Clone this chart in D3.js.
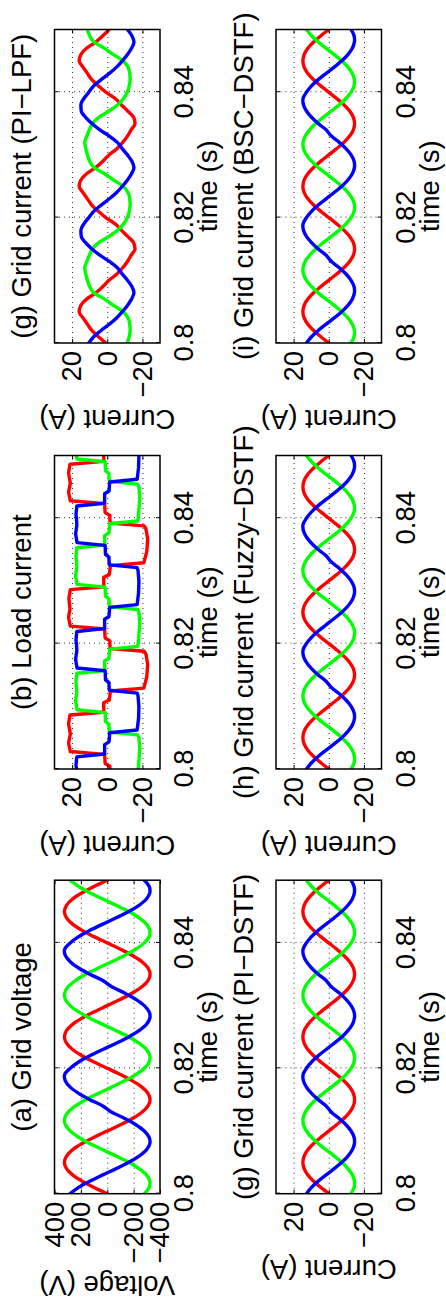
<!DOCTYPE html>
<html><head><meta charset="utf-8">
<script src="https://cdn.jsdelivr.net/npm/d3@7"></script>
<style>html,body{margin:0;padding:0;background:#fff;}svg{display:block;}</style>
</head><body>
<svg id="chart" width="446" height="1308"></svg>
<script>
// ---------- axis ticks ----------
const timeTicks = [0.8, 0.82, 0.84];
const timeTickLabels = ["0.8", "0.82", "0.84"];
const voltTicks = [-400, -200, 0, 200, 400];
const voltTickLabels = ["\u2212400", "\u2212200", "0", "200", "400"];
const currTicks = [-20, 0, 20];
const currTickLabels = ["\u221220", "0", "20"];

// ---------- sampled time (s), 1 ms steps ----------
const tSine = [0.800,0.801,0.802,0.803,0.804,0.805,0.806,0.807,0.808,0.809,0.810,0.811,0.812,0.813,0.814,0.815,0.816,0.817,0.818,0.819,0.820,0.821,0.822,0.823,0.824,0.825,0.826,0.827,0.828,0.829,0.830,0.831,0.832,0.833,0.834,0.835,0.836,0.837,0.838,0.839,0.840,0.841,0.842,0.843,0.844,0.845,0.846,0.847,0.848,0.849,0.850];

// ---------- (a) grid voltage (V) ----------
const gridVa = [0,100,191,263,309,325,309,263,191,100,0,-100,-191,-263,-309,-325,-309,-263,-191,-100,
  0,100,191,263,309,325,309,263,191,100,0,-100,-191,-263,-309,-325,-309,-263,-191,-100,
  0,100,191,263,309,325,309,263,191,100,0];
const gridVb = [-281,-318,-323,-297,-241,-163,-68,34,132,217,281,318,323,297,241,163,68,-34,-132,-217,
  -281,-318,-323,-297,-241,-163,-68,34,132,217,281,318,323,297,241,163,68,-34,-132,-217,
  -281,-318,-323,-297,-241,-163,-68,34,132,217,281];
const gridVc = [281,217,132,34,-68,-163,-241,-297,-323,-318,-281,-217,-132,-34,34,132,217,281,318,323,
  281,217,132,34,-68,-163,-241,-297,-323,-318,-281,-217,-132,-34,34,132,217,281,318,323,
  281,217,132,34,-68,-163,-241,-297,-323,-318,-281];

// ---------- (g),(h),(i) DSTF grid currents (A) ----------
const gridIa = [0,4.5,8.6,11.9,14.0,14.7,14.0,11.9,8.6,4.5,0,-4.5,-8.6,-11.9,-14.0,-14.7,-14.0,-11.9,-8.6,-4.5,
  0,4.5,8.6,11.9,14.0,14.7,14.0,11.9,8.6,4.5,0,-4.5,-8.6,-11.9,-14.0,-14.7,-14.0,-11.9,-8.6,-4.5,
  0,4.5,8.6,11.9,14.0,14.7,14.0,11.9,8.6,4.5,0];
const gridIb = [-12.7,-14.4,-14.6,-13.4,-10.9,-7.4,-3.1,1.5,6.0,9.8,12.7,14.4,14.6,13.4,10.9,7.4,3.1,-1.5,-6.0,-9.8,
  -12.7,-14.4,-14.6,-13.4,-10.9,-7.4,-3.1,1.5,6.0,9.8,12.7,14.4,14.6,13.4,10.9,7.4,3.1,-1.5,-6.0,-9.8,
  -12.7,-14.4,-14.6,-13.4,-10.9,-7.4,-3.1,1.5,6.0,9.8,12.7];
const gridIc = [12.7,9.8,6.0,1.5,-3.1,-7.4,-10.9,-13.4,-14.6,-14.4,-12.7,-9.8,-6.0,-1.5,1.5,6.0,9.8,12.7,14.4,14.6,
  12.7,9.8,6.0,1.5,-3.1,-7.4,-10.9,-13.4,-14.6,-14.4,-12.7,-9.8,-6.0,-1.5,1.5,6.0,9.8,12.7,14.4,14.6,
  12.7,9.8,6.0,1.5,-3.1,-7.4,-10.9,-13.4,-14.6,-14.4,-12.7];

// ---------- (g) PI-LPF grid current (A) ----------
const lpfIa = [0.8,5.0,8.8,11.3,13.8,16.0,15.0,11.8,6.5,2.5,-1.0,-5.5,-8.8,-11.5,-13.6,-15.8,-15.0,-11.6,-8.0,-4.5,
  0.8,5.0,8.8,11.3,13.8,16.0,15.0,11.8,6.5,2.5,-1.0,-5.5,-8.8,-11.5,-13.6,-15.8,-15.0,-11.6,-8.0,-4.5,
  0.8,5.0,8.8,11.3,13.8,16.0,15.0,11.8,6.5,2.5,-1.0];
const lpfIb = [-11.4,-12.5,-13.0,-12.8,-11.8,-9.0,-3.5,1.5,7.5,10.0,11.3,12.2,12.8,11.6,10.2,8.4,4.8,-1.0,-6.0,-9.3,
  -11.4,-12.5,-13.0,-12.8,-11.8,-9.0,-3.5,1.5,7.5,10.0,11.3,12.2,12.8,11.6,10.2,8.4,4.8,-1.0,-6.0,-9.3,
  -11.4,-12.5,-13.0,-12.8,-11.8,-9.0,-3.5,1.5,7.5,10.0,11.3];
const lpfIc = [10.5,7.7,3.5,-1.2,-5.3,-8.6,-11.5,-13.8,-15.2,-14.0,-11.5,-8.5,-5.7,-1.2,4.2,8.7,12.3,14.8,15.0,13.3,
  10.5,7.7,3.5,-1.2,-5.3,-8.6,-11.5,-13.8,-15.2,-14.0,-11.5,-8.5,-5.7,-1.2,4.2,8.7,12.3,14.8,15.0,13.3,
  10.5,7.7,3.5,-1.2,-5.3,-8.6,-11.5,-13.8,-15.2,-14.0,-11.5];

// ---------- (b) load current: vertices, time in ms after 0.8 s, value in A ----------
const loadRedMs = [0,0.44,0.89,2.33,2.78,4.17,5.56,7.22,8.61,9.06,10.56,11.0,12.44,12.89,14.72,16.67,18.33,18.78,19.22,
  20,20.44,20.89,22.33,22.78,24.17,25.56,27.22,28.61,29.06,30.56,31.0,32.44,32.89,34.72,36.67,38.33,38.78,39.22,
  40,40.44,40.89,42.33,42.78,44.17,45.56,47.22,48.61,49.06,50];
const loadRedA = [-1.5,-1.5,1.2,1.5,21.0,22.0,21.0,22.0,21.2,2.0,2.0,-1.2,-1.8,-20.8,-22.5,-23.0,-22.0,-21.0,-1.6,
  -1.5,-1.5,1.2,1.5,21.0,22.0,21.2,21.8,21.0,2.0,2.0,-1.2,-1.8,-20.8,-22.5,-23.0,-22.0,-21.0,-1.6,
  -1.5,-1.5,1.2,1.5,21.0,22.0,21.0,22.0,21.2,2.0,2.0];
const loadGreenMs = [0,1.39,3.33,5.0,5.44,5.89,6.67,7.11,7.56,9.0,9.44,10.83,12.22,13.89,15.28,15.72,17.22,17.67,19.11,19.56,
  20,21.39,23.33,25.0,25.44,25.89,26.67,27.11,27.56,29.0,29.44,30.83,32.22,33.89,35.28,35.72,37.22,37.67,39.11,39.56,
  40,41.39,43.33,45.0,45.44,45.89,46.67,47.11,47.56,49.0,49.44,50];
const loadGreenA = [-17.6,-18.0,-18.5,-18.0,-17.3,-1.2,-1.0,-1.0,1.0,1.2,17.2,18.0,17.3,17.8,17.3,1.5,1.5,-1.0,-1.4,-17.2,
  -17.6,-18.0,-18.5,-18.0,-17.3,-1.2,-1.0,-1.0,1.0,1.2,17.2,18.0,17.3,17.8,17.3,1.5,1.5,-1.0,-1.4,-17.2,
  -17.6,-18.0,-18.5,-18.0,-17.3,-1.2,-1.0,-1.0,1.0,1.2,17.2,17.6];
const loadBlueMs = [0,0.56,1.94,2.39,3.89,4.33,5.78,6.22,8.06,10.0,11.67,12.11,12.56,13.33,13.78,14.22,15.67,16.11,17.5,18.89,
  20,20.56,21.94,22.39,23.89,24.33,25.78,26.22,28.06,30.0,31.67,32.11,32.56,33.33,33.78,34.22,35.67,36.11,37.5,38.89,
  40,40.56,41.94,42.39,43.89,44.33,45.78,46.22,48.06,50];
const loadBlueA = [17.5,17.8,17.3,1.5,1.5,-1.0,-1.4,-17.0,-17.8,-18.0,-17.5,-17.0,-1.2,-1.0,-1.0,1.0,1.2,17.2,18.0,17.3,
  17.5,17.8,17.3,1.5,1.5,-1.0,-1.4,-17.0,-17.8,-18.0,-17.5,-17.0,-1.2,-1.0,-1.0,1.0,1.2,17.2,18.0,17.3,
  17.5,17.8,17.3,1.5,1.5,-1.0,-1.4,-17.0,-17.8,-18.0];

const phaseColors = ["#ff0000", "#00ff00", "#0000ff"];

// ---------- build panels ----------
const msToS = ms => ms.map(m => 0.8 + m / 1000);
const sine3 = (a, b, c) => [{t: tSine, v: a}, {t: tSine, v: b}, {t: tSine, v: c}];
const panels = [
  {title: "(a) Grid voltage", col: 0, row: 0, ylabel: "Voltage (V)", yDomain: [-400, 400], yTicks: voltTicks, yLabels: voltTickLabels,
   series: sine3(gridVa, gridVb, gridVc), curve: d3.curveCatmullRom},
  {title: "(b) Load current", col: 1, row: 0, ylabel: "Current (A)", yDomain: [-30, 30], yTicks: currTicks, yLabels: currTickLabels,
   series: [{t: msToS(loadRedMs), v: loadRedA}, {t: msToS(loadGreenMs), v: loadGreenA}, {t: msToS(loadBlueMs), v: loadBlueA}], curve: d3.curveLinear},
  {title: "(g) Grid current (PI\u2212LPF)", col: 2, row: 0, ylabel: "Current (A)", yDomain: [-30, 30], yTicks: currTicks, yLabels: currTickLabels,
   series: sine3(lpfIa, lpfIb, lpfIc), curve: d3.curveMonotoneX},
  {title: "(g) Grid current (PI\u2212DSTF)", col: 0, row: 1, ylabel: "Current (A)", yDomain: [-30, 30], yTicks: currTicks, yLabels: currTickLabels,
   series: sine3(gridIa, gridIb, gridIc), curve: d3.curveCatmullRom},
  {title: "(h) Grid current (Fuzzy\u2212DSTF)", col: 1, row: 1, ylabel: "Current (A)", yDomain: [-30, 30], yTicks: currTicks, yLabels: currTickLabels,
   series: sine3(gridIa, gridIb, gridIc), curve: d3.curveCatmullRom},
  {title: "(i) Grid current (BSC\u2212DSTF)", col: 2, row: 1, ylabel: "Current (A)", yDomain: [-30, 30], yTicks: currTicks, yLabels: currTickLabels,
   series: sine3(gridIa, gridIb, gridIc), curve: d3.curveCatmullRom}
];

// landscape frame (1308 x 446) rotated -90deg into the 446 x 1308 page
const svg = d3.select("#chart");
const root = svg.append("g").attr("transform", "translate(0,1308) rotate(-90)");
const FONT = "'Liberation Sans', Arial, Helvetica, sans-serif";
const FS = 27.5;
const colLeft = [114.3, 539, 965];
const rowTop = [54.5, 276];
const boxW = 313.5, boxH = 105.5;

panels.forEach((p, i) => {
  const L = colLeft[p.col], T = rowTop[p.row];
  const x = d3.scaleLinear().domain([0.8, 0.85]).range([0, boxW]);
  const y = d3.scaleLinear().domain(p.yDomain).range([boxH, 0]);
  const g = root.append("g").attr("transform", `translate(${L},${T})`);

  g.append("clipPath").attr("id", "clip" + i)
    .append("rect").attr("width", boxW).attr("height", boxH);

  // dotted grid
  const gridY = p.yTicks.filter(v => v > p.yDomain[0] && v < p.yDomain[1]);
  const gridX = timeTicks.filter(v => v > 0.8 && v < 0.85);
  g.append("g").call(d3.axisLeft(y).tickValues(gridY).tickSize(-boxW).tickFormat(""))
    .call(s => s.select(".domain").remove())
    .selectAll("line").attr("stroke", "#333").attr("stroke-width", 1).attr("stroke-dasharray", "1,4");
  g.append("g").attr("transform", `translate(0,${boxH})`)
    .call(d3.axisBottom(x).tickValues(gridX).tickSize(-boxH).tickFormat(""))
    .call(s => s.select(".domain").remove())
    .selectAll("line").attr("stroke", "#333").attr("stroke-width", 1).attr("stroke-dasharray", "1,4");

  // curves
  const line = d3.line().curve(p.curve).x(d => x(d[0])).y(d => y(d[1]));
  const lines = g.append("g").attr("clip-path", `url(#clip${i})`);
  p.series.forEach((s, k) => {
    const pts = s.t.map((tt, j) => [tt, s.v[j]]);
    lines.append("path").attr("d", line(pts)).attr("fill", "none")
      .attr("stroke", phaseColors[k]).attr("stroke-width", 3.4)
      .attr("stroke-linejoin", "round").attr("stroke-linecap", "round");
  });

  // axes with inward ticks
  const styleAxis = s => {
    s.select(".domain").remove();
    s.selectAll("line").attr("stroke", "#000").attr("stroke-width", 1);
    s.selectAll("text").attr("font-size", FS).attr("font-family", FONT).attr("fill", "#000");
    s.attr("font-size", null).attr("font-family", null);
  };
  const yAx = g.append("g")
    .call(d3.axisLeft(y).tickValues(p.yTicks).tickFormat((d, j) => p.yLabels[j]).tickSize(-4).tickPadding(8))
    .call(styleAxis);
  g.append("g").attr("transform", `translate(${boxW},0)`)
    .call(d3.axisRight(y).tickValues(p.yTicks).tickFormat("").tickSize(-4)).call(styleAxis);
  g.append("g").attr("transform", `translate(0,${boxH})`)
    .call(d3.axisBottom(x).tickValues(timeTicks).tickFormat((d, j) => timeTickLabels[j]).tickSize(-4).tickPadding(13.5))
    .call(styleAxis);
  g.append("g")
    .call(d3.axisTop(x).tickValues(timeTicks).tickFormat("").tickSize(-4)).call(styleAxis);

  // box
  g.append("rect").attr("width", boxW).attr("height", boxH)
    .attr("fill", "none").attr("stroke", "#000").attr("stroke-width", 1.5);

  // labels
  let maxW = 0;
  yAx.selectAll("text").each(function() { maxW = Math.max(maxW, this.getComputedTextLength()); });
  g.append("text").attr("x", boxW / 2).attr("y", -23.5).attr("text-anchor", "middle")
    .attr("font-size", FS).attr("font-family", FONT).text(p.title);
  g.append("text").attr("x", boxW / 2).attr("y", boxH + 57).attr("text-anchor", "middle")
    .attr("font-size", FS).attr("font-family", FONT).text("time (s)");
  g.append("text").attr("transform", `translate(${-(8 + maxW + 12)},${boxH / 2}) rotate(-90)`)
    .attr("text-anchor", "middle").attr("font-size", FS).attr("font-family", FONT).text(p.ylabel);
});
</script>
</body></html>
